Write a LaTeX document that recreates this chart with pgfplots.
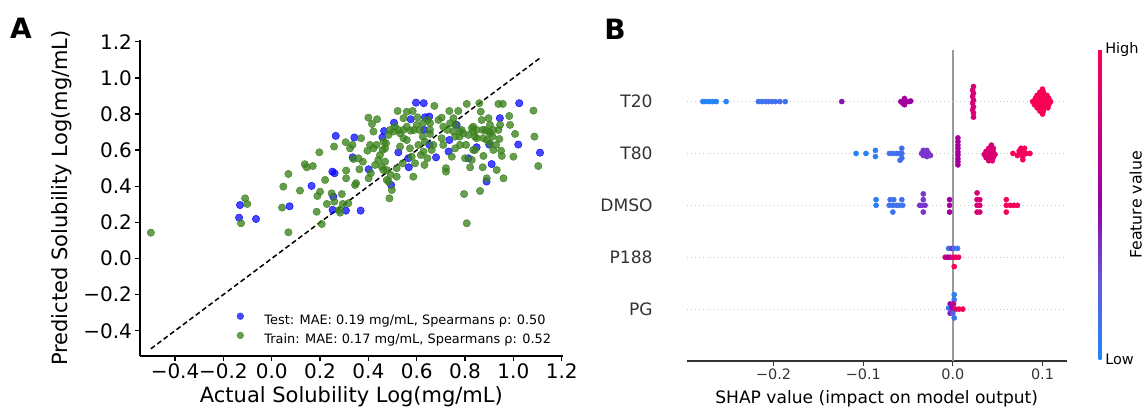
\documentclass[border=0pt]{standalone}
\usepackage{fontspec}
\setmainfont{DejaVu Sans}
\usepackage{pgfplots}
\pgfplotsset{compat=1.18}
\definecolor{testblue}{RGB}{0,0,255}
\definecolor{traingreen}{RGB}{60,130,30}
\definecolor{axgray}{HTML}{333333}
\definecolor{gridgray}{HTML}{CCCCCC}
\definecolor{zerogray}{HTML}{999999}
\begin{document}
\begin{tikzpicture}
% ---------------- Panel A ----------------
\begin{axis}[
  at={(140pt,54pt)}, anchor=south west, scale only axis,
  width=422.7pt, height=316pt,
  xmin=-0.545, xmax=1.204, ymin=-0.54, ymax=1.21,
  axis lines*=left, axis line style={-, line width=1.6pt, black},
  tick align=outside, major tick length=4.6pt,
  tick style={line width=1.3pt, black},
  xtick={-0.4,-0.2,0,0.2,0.4,0.6,0.8,1.0,1.2},
  xticklabels={−0.4,−0.2,0.0,0.2,0.4,0.6,0.8,1.0,1.2},
  ytick={-0.4,-0.2,0,0.2,0.4,0.6,0.8,1.0,1.2},
  yticklabels={−0.4,−0.2,0.0,0.2,0.4,0.6,0.8,1.0,1.2},
  ticklabel style={font=\fontsize{20}{24}\selectfont},
  xlabel={Actual Solubility Log(mg/mL)},
  ylabel={Predicted Solubility Log(mg/mL)},
  label style={font=\fontsize{21}{25}\selectfont},
  xlabel style={at={(axis description cs:0.5,-0.1297)}, anchor=center},
  ylabel style={at={(axis description cs:-0.1845,0.5)}, anchor=center},
  legend style={at={(axis cs:-0.146,-0.298)}, anchor=north west, draw=none, fill=none,
    inner sep=0pt, font=\fontsize{12.9}{15}\selectfont, column sep=20.4pt, row sep=6pt,
    nodes={inner sep=0pt}},
  legend cell align=left,
  legend image code/.code={\fill[#1, draw=none] (0pt,4pt) circle (3.7pt);},
]
\addplot[only marks, color=testblue, fill opacity=0.72, mark=*, mark size=3.7pt, mark options={draw=none}] table {
-0.131 0.296
-0.135 0.226
-0.065 0.219
0.074 0.289
0.165 0.402
0.265 0.679
0.342 0.670
0.251 0.481
0.260 0.472
0.255 0.342
0.252 0.269
0.307 0.265
0.368 0.265
0.335 0.560
0.401 0.494
0.458 0.671
0.465 0.706
0.506 0.752
0.524 0.588
0.494 0.407
0.567 0.505
0.565 0.555
0.575 0.771
0.597 0.863
0.629 0.860
0.634 0.782
0.652 0.786
0.630 0.712
0.653 0.629
0.680 0.560
0.732 0.592
0.735 0.656
0.765 0.740
0.814 0.555
0.848 0.616
0.889 0.426
0.900 0.631
0.910 0.523
0.944 0.777
1.024 0.860
1.020 0.631
1.110 0.586
};
\addlegendentry{Test: MAE: 0.19 mg/mL, Spearmans ρ: 0.50}
\addplot[only marks, color=traingreen, fill opacity=0.78, mark=*, mark size=3.7pt, mark options={draw=none}] table {
-0.50 0.143
-0.127 0.195
-0.110 0.333
-0.101 0.302
0.069 0.145
0.043 0.282
0.048 0.398
0.069 0.468
0.117 0.376
0.137 0.522
0.145 0.505
0.170 0.512
0.197 0.588
0.207 0.191
0.186 0.259
0.189 0.346
0.200 0.370
0.221 0.435
0.228 0.302
0.258 0.620
0.248 0.361
0.259 0.315
0.290 0.357
0.283 0.254
0.280 0.269
0.294 0.302
0.317 0.306
0.308 0.444
0.308 0.487
0.306 0.644
0.324 0.610
0.334 0.629
0.345 0.407
0.349 0.417
0.338 0.551
0.359 0.555
0.370 0.666
0.363 0.494
0.377 0.536
0.400 0.780
0.415 0.745
0.436 0.771
0.421 0.703
0.396 0.597
0.407 0.629
0.421 0.610
0.401 0.444
0.410 0.472
0.428 0.518
0.441 0.546
0.448 0.573
0.459 0.601
0.463 0.647
0.473 0.638
0.483 0.684
0.490 0.712
0.476 0.490
0.483 0.426
0.497 0.379
0.487 0.333
0.492 0.463
0.517 0.453
0.510 0.730
0.521 0.817
0.545 0.777
0.559 0.813
0.583 0.817
0.545 0.666
0.559 0.656
0.531 0.620
0.542 0.527
0.586 0.453
0.593 0.527
0.579 0.564
0.603 0.782
0.611 0.712
0.625 0.675
0.634 0.647
0.655 0.749
0.644 0.555
0.632 0.518
0.673 0.845
0.690 0.767
0.703 0.780
0.710 0.629
0.721 0.500
0.721 0.481
0.735 0.817
0.752 0.777
0.772 0.817
0.745 0.564
0.752 0.703
0.759 0.675
0.777 0.675
0.786 0.712
0.807 0.856
0.804 0.629
0.800 0.555
0.796 0.357
0.807 0.195
0.821 0.505
0.828 0.721
0.834 0.703
0.841 0.675
0.848 0.712
0.859 0.860
0.865 0.813
0.869 0.767
0.873 0.712
0.876 0.666
0.883 0.712
0.897 0.777
0.903 0.740
0.876 0.568
0.873 0.505
0.862 0.374
0.890 0.444
0.914 0.675
0.917 0.712
0.928 0.629
0.938 0.712
0.931 0.490
0.942 0.662
0.945 0.740
0.949 0.597
0.952 0.568
0.959 0.444
0.938 0.856
0.956 0.856
0.983 0.789
0.986 0.740
1.000 0.564
1.007 0.690
1.083 0.819
1.087 0.675
1.103 0.512
0.841 0.601
0.834 0.601
0.828 0.546
0.779 0.629
0.759 0.610
0.669 0.629
0.655 0.690
0.662 0.601
0.628 0.592
0.607 0.629
0.617 0.573
0.572 0.610
0.559 0.730
0.545 0.712
0.524 0.712
0.503 0.703
0.469 0.610
0.434 0.629
0.455 0.509
0.462 0.490
0.469 0.536
0.476 0.435
0.517 0.500
0.531 0.693
0.575 0.708
0.589 0.712
0.600 0.740
0.625 0.749
0.644 0.767
0.655 0.712
0.703 0.666
0.710 0.730
0.727 0.712
0.738 0.749
0.759 0.740
0.779 0.703
0.793 0.693
0.814 0.684
0.834 0.730
0.848 0.666
0.890 0.656
0.903 0.693
0.903 0.638
0.917 0.601
0.897 0.703
};
\addlegendentry{Train: MAE: 0.17 mg/mL, Spearmans ρ: 0.52}
\addplot[black, line width=1.5pt, dash pattern=on 5pt off 3pt, forget plot] coordinates {(-0.5,-0.5) (1.11,1.11)};
\end{axis}
% ---------------- Panel B ----------------
\begin{axis}[
  at={(686.7pt,49pt)}, anchor=south west, scale only axis,
  width=380pt, height=311.3pt,
  xmin=-0.297, xmax=0.127, ymin=-1, ymax=5,
  axis lines*=left, axis line style={-},
  x axis line style={axgray, line width=1.1pt},
  y axis line style={draw=none},
  xtick={-0.2,-0.1,0,0.1}, xticklabels={−0.2,−0.1,0.0,0.1},
  ytick={0,1,2,3,4}, yticklabels={PG,P188,DMSO,T80,T20},
  tick align=outside, major tick length=4.6pt,
  xtick style={axgray, line width=1.1pt}, ytick style={draw=none},
  xticklabel style={font=\fontsize{14.4}{17}\selectfont, text=axgray},
  yticklabel style={font=\fontsize{17.1}{20}\selectfont, text=axgray, xshift=-26pt},
  xlabel={SHAP value (impact on model output)},
  xlabel style={font=\fontsize{17.1}{20}\selectfont, at={(axis description cs:0.5,-0.1198)}, anchor=center},
  colormap={shap}{rgb255=(30,136,250) rgb255=(100,90,225) rgb255=(150,0,170) rgb255=(205,0,125) rgb255=(255,0,82)},
  point meta min=0, point meta max=1,
  colorbar,
  colorbar style={at={(parent axis.north east)}, anchor=north west, xshift=23.5pt,
    scale only axis, width=3pt, height=310pt,
    axis line style={draw=none}, major tick length=0pt,
    ytick={0,1}, yticklabels={Low,High},
    yticklabel style={font=\fontsize{14.5}{17}\selectfont}},
]
\addplot[zerogray, line width=1.3pt, forget plot] coordinates {(0,-1) (0,5)};
\addplot[gridgray, line width=0.66pt, dash pattern=on 0.66pt off 3.3pt, forget plot] coordinates {(-0.297,4) (0.127,4)};
\addplot[gridgray, line width=0.66pt, dash pattern=on 0.66pt off 3.3pt, forget plot] coordinates {(-0.297,3) (0.127,3)};
\addplot[gridgray, line width=0.66pt, dash pattern=on 0.66pt off 3.3pt, forget plot] coordinates {(-0.297,2) (0.127,2)};
\addplot[gridgray, line width=0.66pt, dash pattern=on 0.66pt off 3.3pt, forget plot] coordinates {(-0.297,1) (0.127,1)};
\addplot[gridgray, line width=0.66pt, dash pattern=on 0.66pt off 3.3pt, forget plot] coordinates {(-0.297,0) (0.127,0)};
\addplot[scatter, only marks, mark=*, mark size=2.6pt, scatter src=explicit,
  scatter/use mapped color={draw=mapped color, fill=mapped color}] table[meta=c] {
x y c
-0.279 4 0.02
-0.276 4 0.02
-0.272 4 0.02
-0.268 4 0.02
-0.264 4 0.03
-0.253 4 0.03
-0.217 4 0.12
-0.213 4 0.12
-0.209 4 0.12
-0.206 4 0.12
-0.202 4 0.13
-0.198 4 0.13
-0.193 4 0.13
-0.187 4 0.13
-0.124 4 0.45
-0.058 4 0.55
-0.054 4.06 0.55
-0.052 4 0.55
-0.049 4 0.55
-0.054 3.94 0.55
-0.056 3.97 0.55
-0.047 4.01 0.55
0.023 4.29 0.8
0.022 4.22 0.8
0.023 4.16 0.8
0.022 4.10 0.8
0.023 4.03 0.8
0.022 3.97 0.8
0.023 3.90 0.8
0.022 3.84 0.8
0.023 3.78 0.8
0.023 3.70 0.8
0.100 4.24 0.97
0.097 4.18 0.97
0.101 4.18 0.97
0.094 4.12 0.97
0.098 4.12 0.97
0.102 4.12 0.97
0.105 4.12 0.97
0.092 4.06 0.97
0.096 4.06 0.97
0.100 4.06 0.97
0.104 4.06 0.97
0.107 4.06 0.97
0.089 4.00 0.97
0.093 4.00 0.97
0.097 4.00 0.97
0.101 4.00 0.97
0.105 4.00 0.97
0.109 4.00 0.97
0.091 3.94 0.97
0.095 3.94 0.97
0.099 3.94 0.97
0.103 3.94 0.97
0.107 3.94 0.97
0.094 3.88 0.97
0.098 3.88 0.97
0.102 3.88 0.97
0.106 3.88 0.97
0.097 3.82 0.97
0.101 3.82 0.97
0.100 3.76 0.97
-0.108 3 0.03
-0.097 3 0.05
-0.0864 3.06 0.06
-0.0864 2.94 0.06
-0.0708 3 0.12
-0.067 3 0.12
-0.063 3 0.12
-0.0596 3 0.13
-0.057 3 0.13
-0.057 3.10 0.13
-0.057 2.91 0.13
-0.059 2.87 0.13
-0.033 3.06 0.35
-0.029 3.06 0.35
-0.035 3 0.35
-0.031 3 0.35
-0.027 3 0.35
-0.025 2.96 0.35
-0.033 2.96 0.35
-0.029 2.94 0.35
0.0056 3.30 0.57
0.0056 3.23 0.57
0.0056 3.16 0.57
0.0056 3.10 0.57
0.0056 3.03 0.57
0.0056 2.97 0.57
0.0056 2.90 0.57
0.0056 2.84 0.57
0.0056 2.78 0.57
0.043 3.16 0.82
0.040 3.10 0.82
0.045 3.10 0.82
0.037 3.04 0.82
0.041 3.04 0.82
0.045 3.04 0.82
0.035 2.98 0.82
0.039 2.98 0.82
0.043 2.98 0.82
0.047 2.98 0.82
0.037 2.92 0.82
0.041 2.92 0.82
0.045 2.92 0.82
0.040 2.86 0.82
0.044 2.86 0.82
0.067 3.0 0.95
0.074 3.05 0.95
0.078 3.05 0.95
0.074 3.0 0.95
0.078 3.0 0.95
0.082 3.0 0.95
0.086 3.0 0.95
0.072 2.96 0.95
0.078 2.94 0.95
0.076 3.10 0.95
0.080 3.10 0.95
0.078 2.88 0.95
-0.0857 2.11 0.05
-0.0857 2.0 0.05
-0.070 2.11 0.12
-0.066 2.11 0.12
-0.057 2.11 0.12
-0.071 2 0.12
-0.067 2 0.12
-0.063 2 0.12
-0.060 2 0.12
-0.056 2 0.12
-0.067 1.87 0.12
-0.033 2.22 0.35
-0.033 2.11 0.35
-0.035 2 0.35
-0.031 2 0.35
-0.037 2 0.35
-0.033 1.87 0.35
-0.0037 2.11 0.55
-0.0037 2.0 0.55
-0.0037 1.87 0.55
0.027 2.24 0.8
0.027 2.11 0.8
0.030 2.11 0.8
0.027 2.0 0.8
0.030 2.0 0.8
0.027 1.87 0.8
0.030 1.87 0.8
0.0596 2.11 0.95
0.0596 2 0.95
0.064 2 0.95
0.068 2 0.95
0.072 2 0.95
0.0596 1.87 0.95
-0.0048 1.17 0.1
-0.001 1.17 0.4
0.0015 1.17 0.15
0.0052 1.17 0.1
-0.0086 1 0.8
-0.0056 1 0.5
-0.003 1 0.6
0.0 1 0.9
0.003 1 0.9
0.0063 1 0.9
0.0015 0.82 1.0
0.0015 0.28 0.05
0.0015 0.18 0.1
-0.003 0.10 0.5
0.0007 0.10 0.75
-0.0048 0.02 0.1
-0.001 0.02 0.55
0.003 0.0 0.9
0.0067 0.0 0.95
0.011 0.0 0.95
-0.003 -0.08 0.45
0.0 -0.08 0.2
0.0015 -0.17 0.1
};
\end{axis}
\node[font=\bfseries\fontsize{28}{30}\selectfont] at (21pt,382pt) {A};
\node[font=\bfseries\fontsize{28}{30}\selectfont] at (615pt,381pt) {B};
\node[font=\fontsize{15.8}{19}\selectfont, rotate=90, anchor=south, inner sep=0pt] at (1142pt,205pt) {Feature value};
\pgfresetboundingbox
\path[use as bounding box] (0,0) rectangle (1146pt,410pt);
\end{tikzpicture}
\end{document}
